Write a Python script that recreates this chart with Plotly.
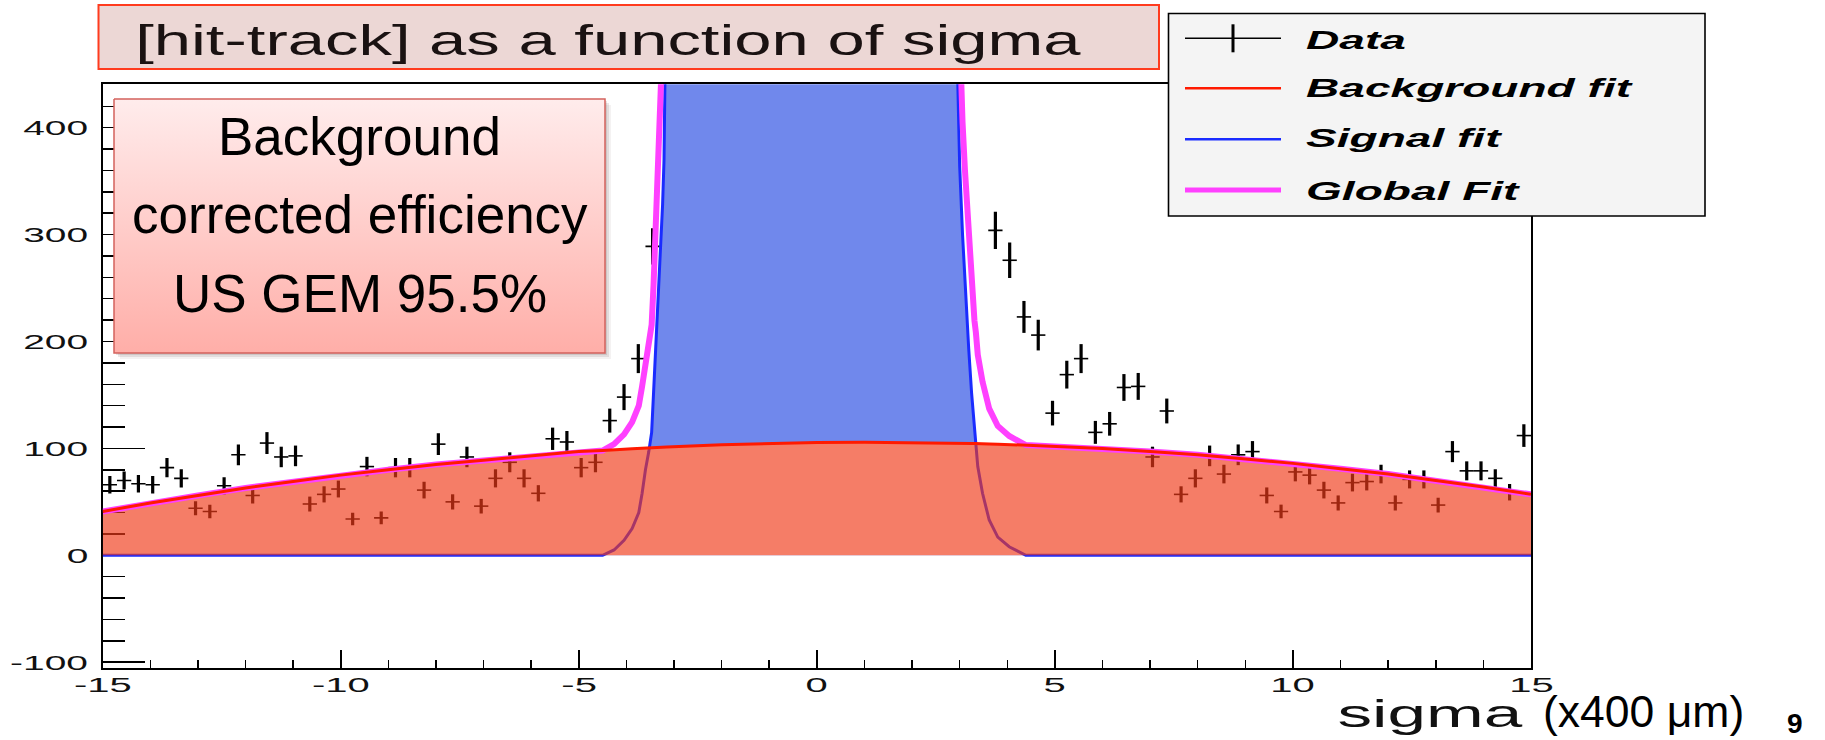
import numpy as np
import plotly.graph_objects as go

# ---- histogram: 100 bins of width 0.3 on [-15, 15] ----
bin_width = 0.3
bin_centers = [round(-14.85 + bin_width * i, 2) for i in range(100)]
# counts per bin; None where the bin sits far above the frame under the signal peak
counts = [66, 70, 67, 66, 82, 72, 44, 41, 65, 94, 56, 105, 92, 93, 48, 57, 62, 34, 83, 35,
          82, 82, 61, 104, 50, 92, 46, 72, 87, 72, 58, 109, 106, 82, 87, 126, 148, 184, 289,
          None, None, None, None, None, None, None, None, None, None, None, None,
          None, None, None, None, None, None, None, None, None, None, None,
          304, 276, 223, 206, 133, 169, 184, 115, 123, 157, 158, 92, 135, 57, 72, 93, 76, 94,
          97, 56, 41, 78, 75, 61, 49, 68, 69, 76, 49, 71, 71, 47, 97, 79, 79, 72, 59, 112]

# ---- fitted functions sampled along sigma ----
fit_x = [-15, -14, -13, -12, -11, -10, -9, -8, -7, -6, -5,
         -4.5, -4.26, -4.05, -3.88, -3.74, -3.67, -3.60, -3.53, -3.47, -3.43, -3.38, -3.30,
         -3.24, -3.21, -3.19, -3.15,
         -2, -1, 0, 1, 2,
         2.90, 2.96, 3.00, 3.06, 3.11, 3.19, 3.25, 3.31, 3.34, 3.38, 3.48, 3.62, 3.80, 4.04, 4.39,
         5, 6, 7, 8, 9, 10, 11, 12, 13, 14, 15]
background_fit = [41, 49, 56, 63, 69, 75, 80, 85, 89, 93, 97,
                  98, 99, 99.2, 99.6, 100, 100.1, 100.3, 100.4, 100.6, 100.7, 100.8, 101,
                  101.2, 101.3, 101.3, 101.4,
                  103.4, 104.7, 105.5, 105.8, 105.6,
                  105, 105, 104.9, 104.9, 104.8, 104.7, 104.7, 104.6, 104.5, 104.5, 104.4, 104.2, 104, 103.6, 103.1,
                  102, 100, 97, 94, 90, 86, 81, 76, 70, 64, 57]
# the signal peak runs off the top of the frame (600 = beyond the y range)
signal_fit = [0, 0, 0, 0, 0, 0, 0, 0, 0, 0, 0,
              0, 5, 14, 25, 40, 58, 80, 97, 115, 152, 200, 262,
              328, 370, 442, 600,
              600, 600, 600, 600, 600,
              600, 442, 364, 300, 256, 193, 152, 115, 104, 83, 58, 33, 17, 8, 0,
              0, 0, 0, 0, 0, 0, 0, 0, 0, 0, 0]
global_fit = list(np.array(background_fit) + np.array(signal_fit))

x_tick_vals = [-15, -10, -5, 0, 5, 10, 15]
x_tick_text = ["-15", "-10", "-5", "0", "5", "10", "15"]
y_tick_vals = [-100, 0, 100, 200, 300, 400]
y_tick_text = ["-100", "0", "100", "200", "300", "400"]

legend_labels = ["Data", "Background fit", "Signal fit", "Global Fit"]
title_text = "[hit-track] as a function of sigma"
note_lines = ["Background", "corrected efficiency", "US GEM 95.5%"]

W, H = 1825, 740
RED = "#ff1a00"
BLUE = "#1a2cff"
MAGENTA = "#ff40ff"
FONT = "Liberation Sans, Arial, sans-serif"

counts_arr = np.array([np.nan if c is None else c for c in counts], dtype=float)
errors = np.sqrt(counts_arr)

fig = go.Figure()

# signal area (blue), drawn first so the background area sits over its lower part
fig.add_trace(go.Scatter(x=fit_x, y=signal_fit, mode="lines", fill="tozeroy",
                         fillcolor="rgb(112,136,236)", line=dict(width=0), hoverinfo="skip"))
# clear the blue below the background curve across the peak
lo, hi = fit_x.index(-4.5), fit_x.index(4.39)
fig.add_trace(go.Scatter(x=fit_x[lo:hi + 1], y=background_fit[lo:hi + 1], mode="lines",
                         fill="tozeroy", fillcolor="white", line=dict(width=0), hoverinfo="skip"))
# data points with errors
fig.add_trace(go.Scatter(x=bin_centers, y=counts_arr, mode="markers",
                         marker=dict(size=0.1, color="black"),
                         error_y=dict(type="data", array=errors, width=0, thickness=3.2, color="black"),
                         error_x=dict(type="constant", value=bin_width / 2, width=0, thickness=1.6,
                                      color="black"),
                         hoverinfo="skip"))
# signal curve
fig.add_trace(go.Scatter(x=fit_x, y=signal_fit, mode="lines", line=dict(color=BLUE, width=3),
                         hoverinfo="skip"))
# background area
fig.add_trace(go.Scatter(x=fit_x, y=background_fit, mode="lines", fill="tozeroy",
                         fillcolor="rgba(240,58,24,0.66)", line=dict(width=0), hoverinfo="skip"))
# global fit and background curve
fig.add_trace(go.Scatter(x=fit_x, y=global_fit, mode="lines", line=dict(color=MAGENTA, width=6),
                         hoverinfo="skip"))
fig.add_trace(go.Scatter(x=fit_x, y=background_fit, mode="lines", line=dict(color=RED, width=3),
                         hoverinfo="skip"))

# ---- overlay layer in page pixels (x2/y2) for the boxed note ----
bx0, bx1, by0, by1 = 114, 605, 99, 353
for off, alpha in [(6, 0.06), (4, 0.10), (2, 0.12)]:
    fig.add_trace(go.Scatter(x=[bx0 + off, bx1 + off, bx1 + off, bx0 + off, bx0 + off],
                             y=[by0 + off, by0 + off, by1 + off, by1 + off, by0 + off],
                             xaxis="x2", yaxis="y2", mode="lines", fill="toself",
                             fillcolor=f"rgba(60,30,30,{alpha})", line=dict(width=0),
                             hoverinfo="skip"))
fig.add_trace(go.Scatter(x=[bx0, bx1, bx1, bx0, bx0], y=[by0, by0, by1, by1, by0],
                         xaxis="x2", yaxis="y2", mode="lines", fill="toself",
                         fillgradient=dict(type="vertical", start=by0, stop=by1,
                                           colorscale=[[0, "#ffecec"], [1, "#ffaea8"]]),
                         line=dict(color="#d4625c", width=1.5), hoverinfo="skip"))

shapes = []
# title box
shapes.append(dict(type="rect", xref="x2", yref="y2", x0=98.5, x1=1159, y0=5, y1=69,
                   fillcolor="#ecd7d5", line=dict(color="#ff3b1e", width=2), layer="above"))
# legend box
lx0, lx1, ly0, ly1 = 1168.5, 1705, 13.5, 216
shapes.append(dict(type="rect", xref="x2", yref="y2", x0=lx0, x1=lx1, y0=ly0, y1=ly1,
                   fillcolor="#f4f4f4", line=dict(color="black", width=1.6), layer="above"))
row_y = [38.3, 88.3, 139.3, 190]
sx0, sx1 = 1185, 1281
shapes.append(dict(type="line", xref="x2", yref="y2", x0=sx0, x1=sx1, y0=row_y[0], y1=row_y[0],
                   line=dict(color="black", width=1.6), layer="above"))
shapes.append(dict(type="line", xref="x2", yref="y2", x0=(sx0 + sx1) / 2, x1=(sx0 + sx1) / 2,
                   y0=row_y[0] - 14, y1=row_y[0] + 14, line=dict(color="black", width=3), layer="above"))
for yy, col, wd in [(row_y[1], RED, 2.5), (row_y[2], BLUE, 2.5), (row_y[3], MAGENTA, 5)]:
    shapes.append(dict(type="line", xref="x2", yref="y2", x0=sx0, x1=sx1, y0=yy, y1=yy,
                       line=dict(color=col, width=wd), layer="above"))

# annotations; `widen` collects (index, horizontal scale, anchor) for the widened canvas text
annotations = []
widen = []


def add_text(scale=None, **kw):
    annotations.append(dict(showarrow=False, **kw))
    if scale:
        widen.append([len(annotations) - 1, scale, kw.get("xanchor", "center")])


add_text(scale=1.595, text=title_text, xref="x2", yref="y2", x=133, y=40.4, xanchor="left",
         yanchor="middle", font=dict(family=FONT, size=42, color="#1a1212"))
for lab, yy in zip(legend_labels, [40.3, 87.7, 137.7, 191]):
    add_text(scale=1.8, text=lab, xref="x2", yref="y2", x=1304, y=yy, xanchor="left",
             yanchor="middle",
             font=dict(family=FONT, size=25.6, color="black", weight="bold", style="italic"))
for line_txt, yy in zip(note_lines, [136.4, 214.7, 293.4]):
    add_text(text=line_txt, xref="x2", yref="y2", x=(bx0 + bx1) / 2, y=yy, xanchor="center",
             yanchor="middle", font=dict(family=FONT, size=53, color="black"))
# tick labels
for v, t in zip(x_tick_vals, x_tick_text):
    add_text(scale=1.95, text=t, xref="x", yref="y2", x=v, y=684.7, xanchor="center",
             yanchor="middle", font=dict(family=FONT, size=20.5, color="#111"))
for v, t in zip(y_tick_vals, y_tick_text):
    add_text(scale=1.9, text=t, xref="x2", yref="y", x=90, y=v, xanchor="right",
             yanchor="middle", font=dict(family=FONT, size=20.5, color="#111"))
# axis title and slide texts
add_text(scale=1.8, text="sigma", xref="x2", yref="y2", x=1525, y=713.5, xanchor="right",
         yanchor="middle", font=dict(family=FONT, size=38.5, color="#111"))
add_text(text="(x400 μm)", xref="x2", yref="y2", x=1541, y=711.7, xanchor="left",
         yanchor="middle", font=dict(family=FONT, size=44.5, color="black"))
add_text(text="9", xref="x2", yref="y2", x=1795, y=723.5, xanchor="center", yanchor="middle",
         font=dict(family=FONT, size=28, color="black", weight="bold"))

fig.update_layout(
    width=W, height=H, autosize=False,
    margin=dict(l=0, r=0, t=0, b=0),
    paper_bgcolor="white", plot_bgcolor="rgba(0,0,0,0)",
    showlegend=False, hovermode=False,
    xaxis=dict(domain=[102.7 / W, 1531 / W], range=[-15, 15], anchor="y",
               tickmode="array", tickvals=x_tick_vals, showticklabels=False,
               ticks="inside", ticklen=18, tickwidth=1.5, tickcolor="black",
               minor=dict(tickmode="linear", tick0=0, dtick=1, ticks="inside", ticklen=8.5,
                          tickwidth=1.5, tickcolor="black"),
               showline=True, linewidth=2, linecolor="black", mirror=True,
               showgrid=False, zeroline=False, layer="below traces", fixedrange=True),
    yaxis=dict(domain=[1 - 668.3 / H, 1 - 84.3 / H], range=[-105.7, 440.6], anchor="x",
               tickmode="array", tickvals=y_tick_vals, showticklabels=False,
               ticks="inside", ticklen=42, tickwidth=1.5, tickcolor="black",
               minor=dict(tickmode="linear", tick0=0, dtick=20, ticks="inside", ticklen=22,
                          tickwidth=1.5, tickcolor="black"),
               showline=True, linewidth=2, linecolor="black", mirror=True,
               showgrid=False, zeroline=False, layer="below traces", fixedrange=True),
    xaxis2=dict(domain=[0, 1], range=[0, W], anchor="y2", visible=False, fixedrange=True),
    yaxis2=dict(domain=[0, 1], range=[H, 0], anchor="x2", visible=False, fixedrange=True),
    shapes=shapes, annotations=annotations,
)

# The histogram canvas text is horizontally widened; apply that widening after drawing.
post_js = """
var gd = document.getElementById('{plot_id}');
var specs = %s;
var byIndex = {};
specs.forEach(function (s) { byIndex[s[0]] = s; });
function widen(el, s, anchor) {
  if (!el || el.getAttribute("data-wide")) return;
  var bb = el.getBBox();
  var cx = anchor === "left" ? bb.x : (anchor === "right" ? bb.x + bb.width : bb.x + bb.width / 2);
  var t = el.getAttribute("transform") || "";
  el.setAttribute("transform", t + " translate(" + cx + ",0) scale(" + s + ",1) translate(" + (-cx) + ",0)");
  el.setAttribute("data-wide", "1");
}
function run() {
  gd.querySelectorAll("g.annotation").forEach(function (g) {
    var sp = byIndex[+g.getAttribute("data-index")];
    if (sp) widen(g.querySelector("text.annotation-text"), sp[1], sp[2]);
  });
}
run();
if (gd.on) gd.on("plotly_afterplot", run);
""" % str(widen).replace("'", '"')

fig.write_html("out.html", post_script=post_js,
               config={"displayModeBar": False, "staticPlot": True, "responsive": False})
